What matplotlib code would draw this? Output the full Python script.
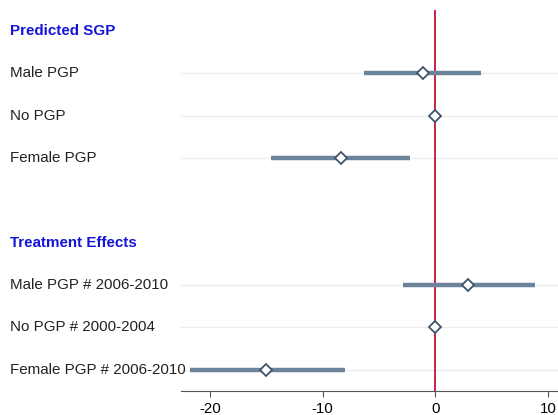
import matplotlib
matplotlib.use('Agg')
import matplotlib.pyplot as plt
import matplotlib.transforms as mtransforms
import numpy as np

plt.rcParams['font.family'] = ['Liberation Sans', 'DejaVu Sans']
plt.rcParams['axes.unicode_minus'] = False

# rows from top to bottom (row index, label)
headers = ['Predicted SGP', 'Treatment Effects']
header_rows = [0, 5]
labels = ['Male PGP', 'No PGP', 'Female PGP',
          'Male PGP # 2006-2010', 'No PGP # 2000-2004', 'Female PGP # 2006-2010']
rows = [1, 2, 3, 6, 7, 8]
est = [-1.1, 0.0, -8.4, 2.95, 0.0, -15.0]
lo = [-6.3, 0.0, -14.6, -2.9, 0.0, -21.8]
hi = [4.1, 0.0, -2.2, 8.9, 0.0, -8.0]
xticks = [-20, -10, 0, 10]

fig = plt.figure(figsize=(5.58, 4.15), dpi=100)
ax = fig.add_axes([0.324, 0.058, 0.676, 0.918])

# light row lines
for r in rows:
    ax.axhline(r, color='#ececec', lw=0.9, zorder=0)

ax.axvline(0, color='#c8103c', lw=1.3, zorder=1)

for r, e, l, h in zip(rows, est, lo, hi):
    if h > l:
        ax.plot([l, h], [r, r], color='#6b8499', lw=3.2, solid_capstyle='butt', zorder=2)
    ax.plot(e, r, marker='D', ms=6.5, mfc='white', mec='#3f5468', mew=1.3, zorder=3)

ax.set_xlim(-22.6, 10.9)
ax.set_ylim(8.5, -0.5)
ax.set_yticks([])
ax.set_xticks(xticks)
ax.tick_params(axis='x', length=4, width=0.8, color='#555555', labelsize=10.8, pad=4)
for s in ['top', 'right', 'left']:
    ax.spines[s].set_visible(False)
ax.spines['bottom'].set_color('#555555')
ax.spines['bottom'].set_linewidth(0.8)

trans = mtransforms.blended_transform_factory(fig.transFigure, ax.transData)
for r, t in zip(header_rows, headers):
    ax.text(0.018, r, t, transform=trans, ha='left', va='center',
            fontsize=10.9, fontweight='bold', color='#1414d8', clip_on=False)
for r, t in zip(rows, labels):
    ax.text(0.018, r, t, transform=trans, ha='left', va='center',
            fontsize=10.9, color='#222222', clip_on=False)

fig.savefig('out.png', dpi=100)
